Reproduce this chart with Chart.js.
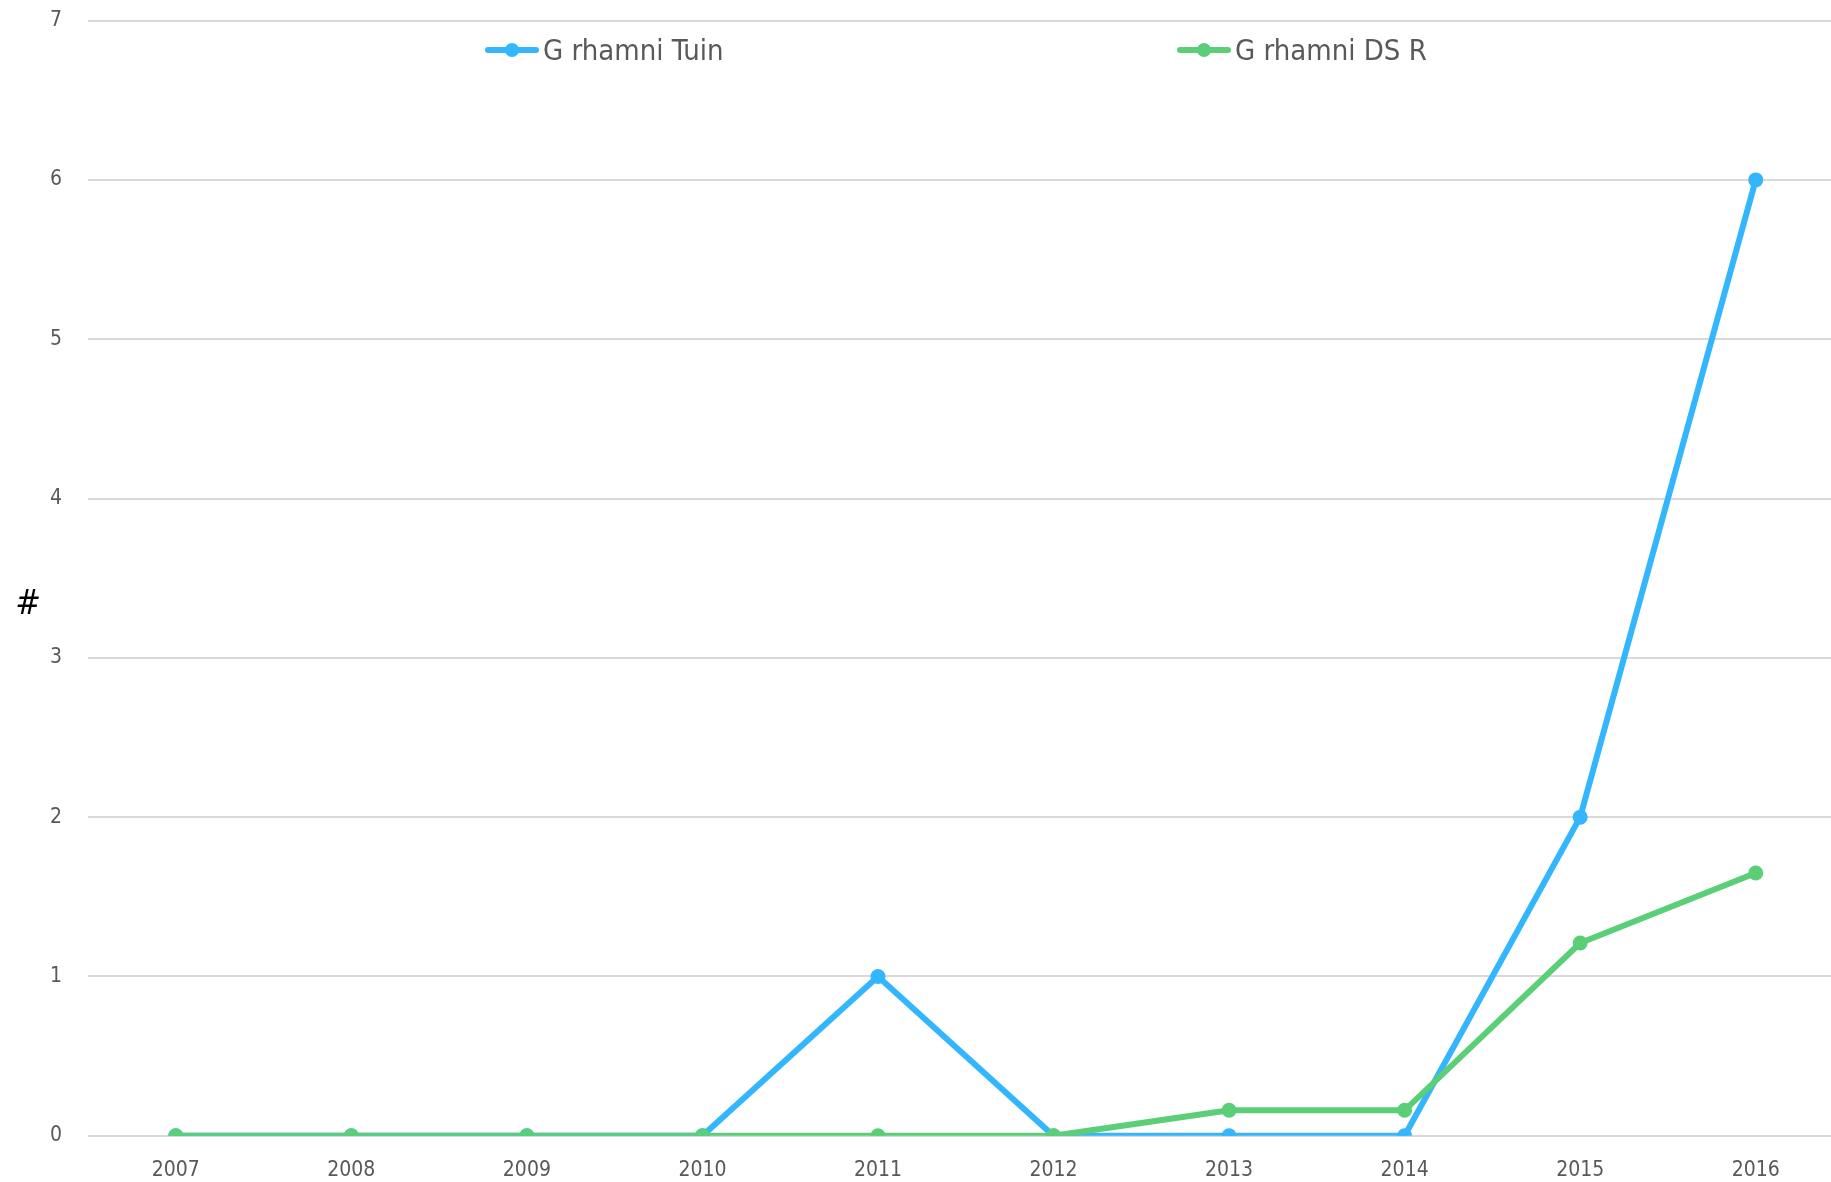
<!DOCTYPE html>
<html>
<head>
<meta charset="utf-8">
<script src="https://cdn.jsdelivr.net/npm/chart.js@4/dist/chart.umd.min.js"></script>
<style>
  html, body { margin: 0; padding: 0; background: #fff; overflow: hidden; }
  #wrap { position: relative; width: 1851px; height: 1215px; margin-top: -18px; }
  #legend { position: absolute; top: 48px; left: 0; width: 1831px; height: 40px;
    font-family: 'Liberation Sans Narrow', 'DejaVu Sans Condensed', 'Open Sans', sans-serif;
    font-size: 29px; color: #595959; }
  .item { position: absolute; top: 0; display: flex; align-items: center; height: 40px; }
  .sym { position: relative; width: 54px; height: 14px; margin-right: 4px; }
  .sym .ln { position: absolute; left: 0; right: 0; top: 4px; height: 6px; border-radius: 3px; }
  .sym .dot { position: absolute; left: 20px; top: 0; width: 14px; height: 14px; border-radius: 7px; }
</style>
</head>
<body>
<div id="wrap">
  <canvas id="myChart"></canvas>
  <div id="legend"></div>
</div>
<script>
'use strict'

let years = ['2007', '2008', '2009', '2010', '2011', '2012', '2013', '2014', '2015', '2016'];
let tuinValues = [0, 0, 0, 0, 1, 0, 0, 0, 2, 6];
let dsrValues = [0, 0, 0, 0, 0, 0, 0.16, 0.16, 1.21, 1.65];
let seriesNames = ['G rhamni Tuin', 'G rhamni DS R'];
let seriesColors = ['#33b6fd', '#5bcf78'];
let legendLeft = [485, 1177];
let yTitle = '#';

let fontFamily = "'Liberation Sans Narrow', 'DejaVu Sans Condensed', 'Open Sans', sans-serif";

// legend drawn as html over the plot, like the original
let legend = document.getElementById('legend');
for (let i = 0; i < seriesNames.length; i++) {
  let item = document.createElement('div');
  item.className = 'item';
  item.style.left = legendLeft[i] + 'px';
  item.innerHTML = '<div class="sym"><div class="ln" style="background:' + seriesColors[i] +
    '"></div><div class="dot" style="background:' + seriesColors[i] + '"></div></div><span>' +
    seriesNames[i] + '</span>';
  legend.appendChild(item);
}

// '#' title, horizontal
let yTitlePlugin = {
  id: 'yTitle',
  afterDraw(chart) {
    let ctx = chart.ctx;
    ctx.save();
    ctx.font = 'italic 34px ' + fontFamily;
    ctx.fillStyle = '#000';
    ctx.textAlign = 'center';
    ctx.textBaseline = 'middle';
    ctx.fillText(yTitle, 28, 623);
    ctx.restore();
  }
};

function viewChart() {
  let ctx = document.getElementById('myChart').getContext('2d');
  new Chart(ctx, {
    type: 'line',
    data: {
      labels: years,
      datasets: [{
        label: seriesNames[0],
        data: tuinValues,
        borderColor: seriesColors[0],
        backgroundColor: seriesColors[0],
        borderWidth: 6,
        pointRadius: 7.5,
        pointBorderWidth: 0,
        tension: 0,
        order: 1
      },
      {
        label: seriesNames[1],
        data: dsrValues,
        borderColor: seriesColors[1],
        backgroundColor: seriesColors[1],
        borderWidth: 6,
        pointRadius: 7.5,
        pointBorderWidth: 0,
        tension: 0,
        order: 0
      }]
    },
    options: {
      responsive: true,
      maintainAspectRatio: false,
      animation: false,
      layout: { padding: { top: 8, bottom: 0, left: 0, right: 0 } },
      plugins: { legend: { display: false }, tooltip: { enabled: false } },
      scales: {
        x: {
          offset: true,
          grid: { display: false },
          border: { display: false },
          ticks: { color: '#595959', padding: 14, font: { family: fontFamily, size: 21 } }
        },
        y: {
          min: 0,
          max: 7,
          afterFit(scale) { scale.width = 88; },
          grid: { color: '#d9d9d9', lineWidth: 2, drawTicks: false },
          border: { display: false },
          ticks: { stepSize: 1, color: '#595959', padding: 26, font: { family: fontFamily, size: 21 } }
        }
      }
    },
    plugins: [yTitlePlugin]
  });
}

viewChart();
</script>
</body>
</html>
